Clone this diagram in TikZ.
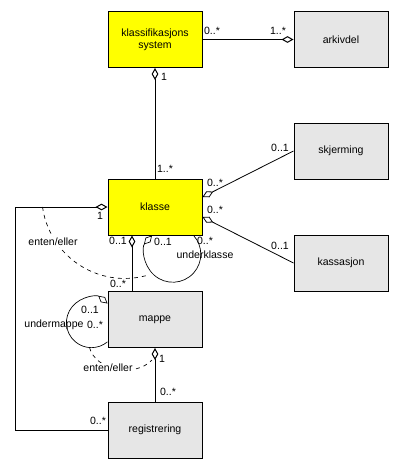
\documentclass[tikz,border=0pt]{standalone}
\usepackage{fontspec}
\setmainfont{Liberation Sans}
\usetikzlibrary{arrows.meta,calc}
\definecolor{klyellow}{RGB}{255,255,0}
\definecolor{klgrey}{RGB}{230,230,230}
\tikzset{every picture/.style={line width=0.75pt}}

\begin{document}
\begin{tikzpicture}[x=0.75pt,y=0.75pt,yscale=-1,xscale=1,
  box/.style={draw,minimum width=70.5pt,minimum height=42pt,inner sep=0pt,align=center,font=\fontsize{7.9}{9}\selectfont},
  lbl/.style={inner sep=0.75pt,font=\fontsize{7.9}{9}\selectfont},
  agg/.style={{Diamond[open,length=9pt,width=5pt]}-},
  loopline/.style={line width=0.5pt},
  eitheror/.style={dashed,line width=0.5pt}]
\path (0,0) rectangle (405,465);

%Shape: Rectangle
\node[box,fill=klyellow] (system) at (155,39.5) {klassifikasjons\\system};
\node[box,fill=klgrey] (arkivdel) at (341,39.5) {arkivdel};
\node[box,fill=klgrey] (skjerming) at (341,151) {skjerming};
\node[box,fill=klyellow] (klasse) at (155,207) {klasse};
\node[box,fill=klgrey] (kassasjon) at (341,263) {kassasjon};
\node[box,fill=klgrey] (mappe) at (155,319.5) {mappe};
\node[box,fill=klgrey] (registrering) at (155,430) {registrering};

%Connectors
\draw[agg] (arkivdel.west) -- (system.east);
\draw[agg] (system.south) -- (klasse.north);
\draw[agg,line width=0.6pt] ($(klasse.east)+(0,-10)$) -- (skjerming.west);
\draw[agg,line width=0.6pt] ($(klasse.east)+(0,10)$) -- (kassasjon.west);
\draw[agg] (klasse.west) -- ++(-92,0) |- (registrering.west);
\draw[agg] ($(klasse.south)+(-23,0)$) -- ($(mappe.north)+(-23,0)$);
\draw[agg] (mappe.south) -- (registrering.north);
%Self loops
\draw[agg,loopline] ($(klasse.south)+(-3,0)$) arc[start angle=222,end angle=-42,radius=28];
\draw[agg,loopline] ($(mappe.west)+(0,-16)$) arc[start angle=-50,end angle=-310,radius=25];

%Dashed: enten/eller
\coordinate (eeup) at ($(klasse.west)+(-65,0)$);
\draw[eitheror] (eeup) arc[start angle=172,end angle=73,radius=83];
\coordinate (eelow) at ($(mappe.west)+(-18,28)$);
\coordinate (eelowend) at ($(mappe.south)+(-3,12)$);
\draw[eitheror] (eelow) .. controls +(6,23) and +(-17,18) .. (eelowend);

% Text Node
\node[lbl] (m1) at (212,31) {0..*};
\node[lbl] (m2) at (278,31) {1..*};
\node[lbl] (m3) at (164,77) {1};
\node[lbl] (m4) at (165,169) {1..*};
\node[lbl] (m5) at (280,148) {0..1};
\node[lbl] (m6) at (215,183) {0..*};
\node[lbl] (m7) at (215,210) {0..*};
\node[lbl] (m8) at (280,246) {0..1};
\node[lbl] (m9) at (100,216) {1};
\node[lbl,fill=white] (e1) at (53,242) {enten/eller};
\node[lbl] (m10) at (118,241) {0..1};
\node[lbl] (m11) at (163,242) {0..1};
\node[lbl] (m12) at (205,241) {0..*};
\node[lbl] (u1) at (205,255) {underklasse};
\node[lbl] (m13) at (118,284) {0..*};
\node[lbl] (m14) at (90,310) {0..1};
\node[lbl] (u2) at (54,325) {undermappe};
\node[lbl] (m15) at (95,325) {0..*};
\node[lbl,fill=white] (e2) at (108,368) {enten/eller};
\node[lbl] (m16) at (162,359) {1};
\node[lbl] (m17) at (168,392) {0..*};
\node[lbl] (m18) at (98,421) {0..*};

\end{tikzpicture}
\end{document}
